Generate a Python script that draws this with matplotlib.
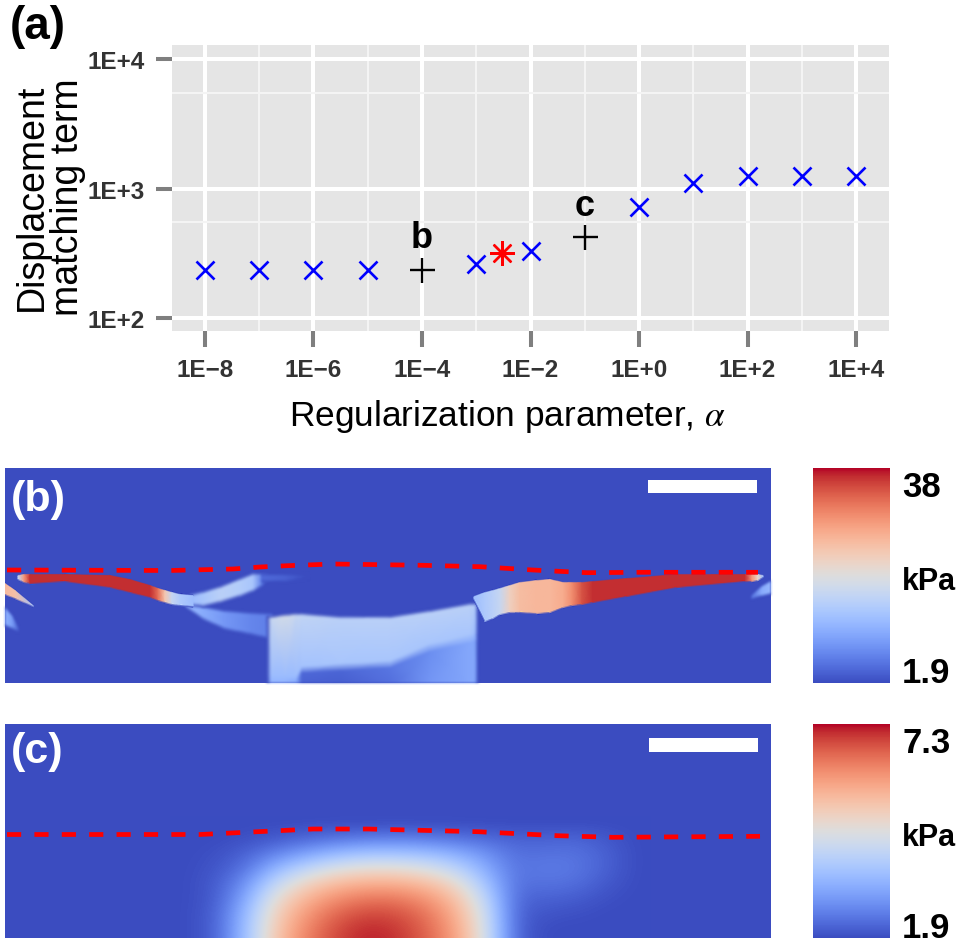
import matplotlib
matplotlib.use("Agg")
from matplotlib import pyplot as plt
import numpy as np

plt.rcParams['font.family'] = ['Liberation Sans', 'DejaVu Sans']
plt.rcParams['mathtext.fontset'] = 'stix'

W, H = 960, 945

# panel (a): L-curve
alpha_x = [1e-8, 1e-7, 1e-6, 1e-5, 1e-3, 1e-2, 1e0, 1e1, 1e2, 1e3, 1e4]
alpha_y = [235, 235, 235, 235, 261, 329, 720, 1100, 1250, 1255, 1255]
picked_x = [1e-4, 1e-1]
picked_y = [237, 419]
picked_labels = ['b', 'c']
optimum_x = [3e-3]
optimum_y = [318]
x_ticks = [1e-8, 1e-6, 1e-4, 1e-2, 1e0, 1e2, 1e4]
x_minor = [1e-7, 1e-5, 1e-3, 1e-1, 1e1, 1e3]
x_tick_labels = ['1E\u22128', '1E\u22126', '1E\u22124', '1E\u22122', '1E+0', '1E+2', '1E+4']
y_ticks = [1e2, 1e3, 1e4]
y_minor = [550, 5500]
y_tick_labels = ['1E+2', '1E+3', '1E+4']

# panel (b): ribbons of the stiffness map, image pixels, value as fraction of the colour range
lower_x = [186, 203, 225, 250, 272]
lower_top = [600, 610, 614, 616, 617]
lower_bot = [606, 618, 628, 633, 638]
lower_val = [0.28, 0.24, 0.18, 0.14, 0.12]

upper_x = [190, 203, 220, 240, 253, 262, 268]
upper_top = [598, 595, 590, 582, 577, 577, 577]
upper_bot = [604, 605, 601, 595, 590, 585, 579]
upper_val = [0.30, 0.33, 0.38, 0.36, 0.33, 0.12, 0.03]

smear_x = [262, 285, 308]
smear_top = [577, 577, 577]
smear_bot = [581, 581, 578]
smear_val = [0.07, 0.05, 0.0]

strip_x = [18, 24, 30, 65, 110, 130, 150, 158, 165, 172, 180, 193]
strip_top = [577, 576, 576, 576, 577, 581, 587, 590, 592, 594, 596, 597]
strip_bot = [580, 583, 584, 582, 588, 593, 598, 601, 603, 605, 606, 607]
strip_val = [0.40, 0.75, 0.96, 0.96, 0.96, 0.96, 0.96, 0.84, 0.62, 0.42, 0.35, 0.30]

right_x = [474, 485, 493, 500, 510, 520, 537, 550, 563, 572, 582, 593, 627, 677, 745, 752, 758, 763]
right_top = [598, 594, 592, 590, 587, 584, 582, 581, 584, 584, 584, 583, 580, 576, 576, 576, 576, 577]
right_bot = [600, 622, 619, 615, 613, 613, 614, 613, 608, 606, 605, 603, 597, 588, 582, 582, 581, 578]
right_val = [0.30, 0.35, 0.38, 0.42, 0.58, 0.65, 0.67, 0.67, 0.70, 0.78, 0.90, 0.96, 0.96, 0.96, 0.96, 0.75, 0.55, 0.28]

wedge_x = [5, 15, 33]
wedge_top = [585, 592, 607]
wedge_bot = [595, 599, 607]
wedge_val = [0.66, 0.64, 0.30]

tail_x = [5, 12, 18]
tail_top = [610, 618, 630]
tail_bot = [625, 628, 631]
tail_val = [0.25, 0.20, 0.05]

edge_x = [752, 762, 771]
edge_top = [597, 588, 583]
edge_bot = [599, 596, 594]
edge_val = [0.10, 0.24, 0.28]

# block of tissue below the membrane, one row per level
block_x = [267, 271, 285, 296, 302, 340, 390, 430, 470, 475, 478]
block_top = [620, 620, 618, 617, 617, 620, 620, 614, 607, 607, 607]
block_mid = [678, 678, 678, 678, 668, 665, 662, 645, 636, 635, 635]
block_low = [682, 682, 682, 682, 674, 672, 669, 653, 644, 643, 643]
block_end = [686] * 11
block_val_top = [0, 0.42, 0.46, 0.42, 0.40, 0.38, 0.38, 0.38, 0.38, 0.36, 0]
block_val_mid = [0, 0.29, 0.29, 0.29, 0.32, 0.33, 0.33, 0.33, 0.33, 0.30, 0]
block_val_low = [0, 0.27, 0.27, 0.24, 0.07, 0.06, 0.10, 0.16, 0.23, 0.22, 0]
block_val_end = [0, 0.27, 0.27, 0.24, 0.05, 0.04, 0.08, 0.18, 0.23, 0.22, 0]

# panel (c): smooth map read on a regular grid, 30 px columns and 15 px rows
field_x0, field_x1 = 170, 650
field_y0, field_y1 = 817.5, 952.5
field_c = [
    [0, 0, 0, 0, 0, 0, 0, 0, 0, 0, 0, 0, 0, 0, 0, 0],
    [0, 0, .01, .03, .06, .09, .11, .12, .11, .09, .07, .05, .05, .06, .03, 0],
    [0, .01, .05, .13, .21, .28, .32, .32, .30, .25, .17, .08, .09, .09, .05, 0],
    [0, .02, .09, .27, .40, .49, .53, .53, .49, .40, .24, .09, .11, .10, .05, 0],
    [0, .03, .16, .41, .57, .66, .70, .70, .66, .55, .32, .08, .09, .08, .03, 0],
    [0, .03, .22, .52, .68, .78, .83, .83, .77, .65, .40, .06, .05, .04, .01, 0],
    [0, .04, .27, .58, .75, .86, .92, .91, .84, .70, .45, .05, .02, .01, 0, 0],
    [0, .04, .29, .61, .79, .91, .97, .95, .87, .73, .47, .05, 0, 0, 0, 0],
    [0, .04, .30, .62, .81, .92, .98, .96, .88, .74, .48, .05, 0, 0, 0, 0],
]

# red dashed surface lines
surface_b_x = [7, 170, 233, 260, 287, 333, 423, 480, 533, 587, 640, 758]
surface_b_y = [571, 571.5, 570, 568, 566.7, 565, 566.3, 567.7, 571, 573.7, 573.3, 573.3]
surface_c_x = [7, 200, 258, 313, 368, 478, 558, 613, 760]
surface_c_y = [835.5, 835.5, 832.7, 830, 830, 832.7, 836.7, 838.3, 837.3]

colorbar_b = ['38', 'kPa', '1.9']
colorbar_c = ['7.3', 'kPa', '1.9']


def px_axes(fig, x0, y0, x1, y1):
    return fig.add_axes([x0 / W, 1 - y1 / H, (x1 - x0) / W, (y1 - y0) / H])


def ftext(fig, x, y, s, **kw):
    return fig.text(x / W, 1 - y / H, s, **kw)


def soften(rgba, dpi):
    # small box blur so the soft tissue has no hard facets, on premultiplied colour
    pad = 3
    img = np.pad(rgba.astype(float), ((pad, pad), (pad, pad), (0, 0)))
    alpha = img[..., 3:4].copy()
    img[..., :3] *= alpha
    kernel = np.array([1, 2, 3, 2, 1]) / 9
    for axis in (0, 1):
        img = np.apply_along_axis(np.convolve, axis, img, kernel, mode='same')
    alpha = img[..., 3:4]
    img[..., :3] = np.where(alpha > 0, img[..., :3] / np.maximum(alpha, 1e-6), 0)
    return np.clip(img, 0, 1), -pad, -pad


def draw_field(ax, x, rows, vals, blur=False):
    xx = np.tile(np.array(x, dtype=float), (len(rows), 1))
    mesh = ax.pcolormesh(xx, np.array(rows, dtype=float), np.array(vals, dtype=float),
                         shading='gouraud', cmap='coolwarm', vmin=0, vmax=1)
    if blur:
        mesh.set_agg_filter(soften)


def draw_ribbon(ax, x, top, bot, val, edge=2, blur=False):
    top = np.array(top, dtype=float)
    bot = np.array(bot, dtype=float)
    val = np.array(val, dtype=float)
    zero = np.zeros_like(val)
    draw_field(ax, x, [top - edge, top, bot, bot + edge], [zero, val, val, zero], blur)


def map_axes(fig, y0, y1):
    ax = px_axes(fig, 5, y0, 771, y1)
    ax.set_facecolor(plt.get_cmap('coolwarm')(0.0))
    ax.set_xlim(5, 771)
    ax.set_ylim(y1, y0)
    ax.set_xticks([])
    ax.set_yticks([])
    for s in ax.spines.values():
        s.set_visible(False)
    return ax


def draw_colorbar(fig, y0, y1, labels):
    cax = px_axes(fig, 813, y0, 890, y1)
    sm = plt.cm.ScalarMappable(cmap='coolwarm', norm=plt.Normalize(0, 1))
    cb = fig.colorbar(sm, cax=cax)
    cb.set_ticks([])
    cb.outline.set_visible(False)
    sizes = [25, 22, 25]
    for lab, yy, fs in zip(labels, [y0 + 28, y0 + 121, y1 - 1], sizes):
        ftext(fig, 902, yy, lab, fontsize=fs, fontweight='bold',
              color='black', ha='left', va='baseline')


fig = plt.figure(figsize=(W / 100, H / 100), dpi=100)

# (a)
ax = px_axes(fig, 172, 46, 889, 332)
ax.set_facecolor('#e5e5e5')
ax.set_xscale('log')
ax.set_yscale('log')
ax.set_xlim(10 ** -8.608, 10 ** 4.608)
ax.set_ylim(10 ** 1.9, 10 ** 4.108)
for s in ax.spines.values():
    s.set_visible(False)
ax.set_xticks(x_ticks, x_tick_labels)
ax.set_xticks(x_minor, [''] * len(x_minor), minor=True)
ax.set_yticks(y_ticks, y_tick_labels)
ax.set_yticks(y_minor, [''] * len(y_minor), minor=True)
ax.tick_params(which='major', length=11.5, width=2.9, color='#7f7f7f', pad=8,
               labelsize=17.5, labelcolor='#333333')
ax.tick_params(which='minor', length=0)
for t in ax.get_xticklabels() + ax.get_yticklabels():
    t.set_fontweight('bold')
ax.grid(which='major', color='white', lw=2.9)
ax.grid(which='minor', color='#f4f4f4', lw=1.5)
ax.set_axisbelow(True)

ax.plot(alpha_x, alpha_y, ls='none', marker='x', ms=13, mew=1.9, color='#0000ff')
ax.plot(picked_x, picked_y, ls='none', marker='+', ms=18, mew=1.7, color='black')
ax.plot(optimum_x, optimum_y, ls='none', marker=(8, 2, 0), ms=18, mew=1.7, color='#ff0000')
for px, py, lab in zip(picked_x, picked_y, picked_labels):
    ax.annotate(lab, (px, py), xytext=(0, 16), textcoords='offset points', ha='center',
                va='baseline', fontsize=26, fontweight='bold', color='black')

ftext(fig, 507, 417, 'Regularization parameter, $\\alpha$', fontsize=25.4, ha='center',
      va='center', color='black')
ftext(fig, 50, 197, 'Displacement\nmatching term', fontsize=27, rotation=90, ha='center',
      va='center', linespacing=1.0, multialignment='center', color='black')
ftext(fig, 10, 39, '(a)', fontsize=33, fontweight='bold', color='black', ha='left', va='baseline')

# (b)
axb = map_axes(fig, 469, 684)
draw_ribbon(axb, lower_x, lower_top, lower_bot, lower_val, edge=3, blur=True)
draw_ribbon(axb, upper_x, upper_top, upper_bot, upper_val, edge=3, blur=True)
draw_ribbon(axb, smear_x, smear_top, smear_bot, smear_val, edge=2, blur=True)
draw_field(axb, block_x,
           [np.array(block_top) - 3, block_top, block_mid, block_low, block_end],
           [[0] * len(block_x), block_val_top, block_val_mid, block_val_low, block_val_end],
           blur=True)
draw_ribbon(axb, strip_x, strip_top, strip_bot, strip_val, edge=1)
draw_ribbon(axb, right_x, right_top, right_bot, right_val, edge=1)
draw_ribbon(axb, wedge_x, wedge_top, wedge_bot, wedge_val, edge=1)
draw_ribbon(axb, tail_x, tail_top, tail_bot, tail_val, edge=2, blur=True)
draw_ribbon(axb, edge_x, edge_top, edge_bot, edge_val, edge=1, blur=True)
axb.plot(surface_b_x, surface_b_y, color='#ff0000', lw=3.4, ls=(0, (3, 2.8)))
axb.set_xlim(5, 771)
axb.set_ylim(684, 469)
axb.fill_between([648, 757], 481, 494, color='white', lw=0)
ftext(fig, 11, 511, '(b)', fontsize=31, fontweight='bold', color='white', ha='left', va='baseline')
draw_colorbar(fig, 469, 684, colorbar_b)

# (c)
axc = map_axes(fig, 725, 939)
axc.imshow(np.array(field_c), extent=(field_x0, field_x1, field_y1, field_y0), cmap='coolwarm',
           vmin=0, vmax=1, interpolation='bicubic', aspect='auto')
axc.plot(surface_c_x, surface_c_y, color='#ff0000', lw=3.4, ls=(0, (3, 2.8)))
axc.set_xlim(5, 771)
axc.set_ylim(939, 725)
axc.fill_between([649, 758], 739, 753, color='white', lw=0)
ftext(fig, 11, 763, '(c)', fontsize=31, fontweight='bold', color='white', ha='left', va='baseline')
draw_colorbar(fig, 725, 939, colorbar_c)

fig.savefig('out.png', dpi=100)
